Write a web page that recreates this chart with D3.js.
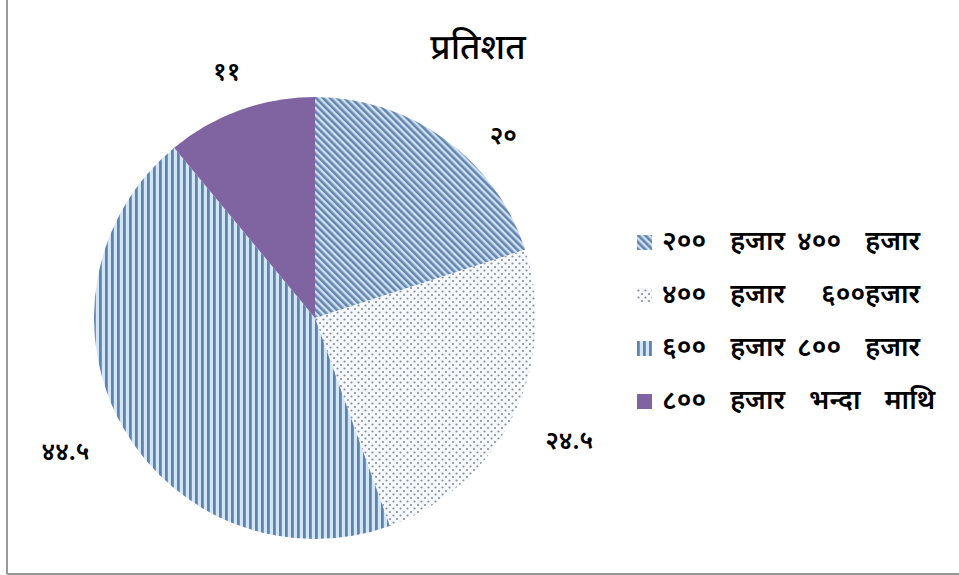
<!DOCTYPE html>
<html>
<head>
<meta charset="utf-8">
<script src="https://cdn.jsdelivr.net/npm/d3@7"></script>
<style>
  body { margin: 0; background: #fff; }
  text { font-family: "Noto Sans Devanagari", "Noto Sans", "Lohit Devanagari", sans-serif; fill: #000; }
</style>
</head>
<body>
<svg id="chart" width="959" height="575"></svg>
<script>
// data
let categories = ["२००  हजार ४००  हजार", "४००  हजार   ६००हजार", "६००  हजार ८००  हजार", "८००  हजार  भन्दा  माथि"];
let values = [20, 24.5, 44.5, 11];
let valueLabels = ["२०", "२४.५", "४४.५", "११"];
let title = "प्रतिशत";

let width = 959, height = 575;
let cx = 315, cy = 318, radius = 221;

let svg = d3.select("#chart");
let defs = svg.append("defs");

// diagonal stripes
let p0 = defs.append("pattern").attr("id","pat0").attr("patternUnits","userSpaceOnUse")
  .attr("width",5).attr("height",5).attr("patternTransform","rotate(-45)");
p0.append("rect").attr("width",5).attr("height",5).attr("fill","#cfe1f1");
p0.append("rect").attr("width",2.6).attr("height",5).attr("fill","#6485ad");

// dots
let p1 = defs.append("pattern").attr("id","pat1").attr("patternUnits","userSpaceOnUse")
  .attr("width",7).attr("height",7);
p1.append("rect").attr("width",7).attr("height",7).attr("fill","#f6f9fc");
p1.append("circle").attr("cx",1.5).attr("cy",1.5).attr("r",1.1).attr("fill","#8a8f98");
p1.append("circle").attr("cx",5).attr("cy",5).attr("r",1.1).attr("fill","#8a8f98");

// vertical stripes
let p2 = defs.append("pattern").attr("id","pat2").attr("patternUnits","userSpaceOnUse")
  .attr("width",6).attr("height",6);
p2.append("rect").attr("width",6).attr("height",6).attr("fill","#d3e6f5");
p2.append("rect").attr("x",0).attr("width",2.8).attr("height",6).attr("fill","#5f82ae");

let fills = ["url(#pat0)", "url(#pat1)", "url(#pat2)", "#8064a2"];

// frame
svg.append("line").attr("x1",7).attr("x2",7).attr("y1",0).attr("y2",574)
  .attr("stroke","#999").attr("stroke-width",2);
svg.append("line").attr("x1",7).attr("x2",959).attr("y1",574).attr("y2",574)
  .attr("stroke","#999").attr("stroke-width",2);

// title
svg.append("text").attr("x",478).attr("y",59).attr("text-anchor","middle")
  .attr("font-size",35).attr("font-weight",500).text(title);

let pie = d3.pie().sort(null).value(d => d);
let arcs = pie(values);
let arc = d3.arc().innerRadius(0).outerRadius(radius);

let g = svg.append("g").attr("transform","translate("+cx+","+cy+")");
g.selectAll("path").data(arcs).enter().append("path")
  .attr("d", arc)
  .attr("fill", (d,i) => fills[i]);

// value labels
let labelArc = d3.arc().innerRadius(radius*1.18).outerRadius(radius*1.18);
let labelOffsets = [[35,30],[20,10],[-23,6],[0,1]];
g.selectAll("text.val").data(arcs).enter().append("text")
  .attr("class","val")
  .attr("x", (d,i) => labelArc.centroid(d)[0] + labelOffsets[i][0])
  .attr("y", (d,i) => labelArc.centroid(d)[1] + labelOffsets[i][1])
  .attr("text-anchor","middle")
  .attr("dominant-baseline","middle")
  .attr("font-size",25)
  .attr("font-weight",600)
  .text((d,i) => valueLabels[i]);

// legend
let legend = svg.append("g").attr("transform","translate(637,243)");
let rows = legend.selectAll("g").data(categories).enter().append("g")
  .attr("transform",(d,i) => "translate(0,"+(i*53)+")");
rows.append("rect").attr("x",0).attr("y",-8).attr("width",15).attr("height",15)
  .attr("fill",(d,i) => fills[i]);
rows.append("text").attr("x",25).attr("y",0)
  .attr("dominant-baseline","middle")
  .attr("font-size",27)
  .attr("font-weight",600)
  .attr("word-spacing",5)
  .style("white-space","pre")
  .attr("xml:space","preserve")
  .text(d => d);
</script>
</body>
</html>
